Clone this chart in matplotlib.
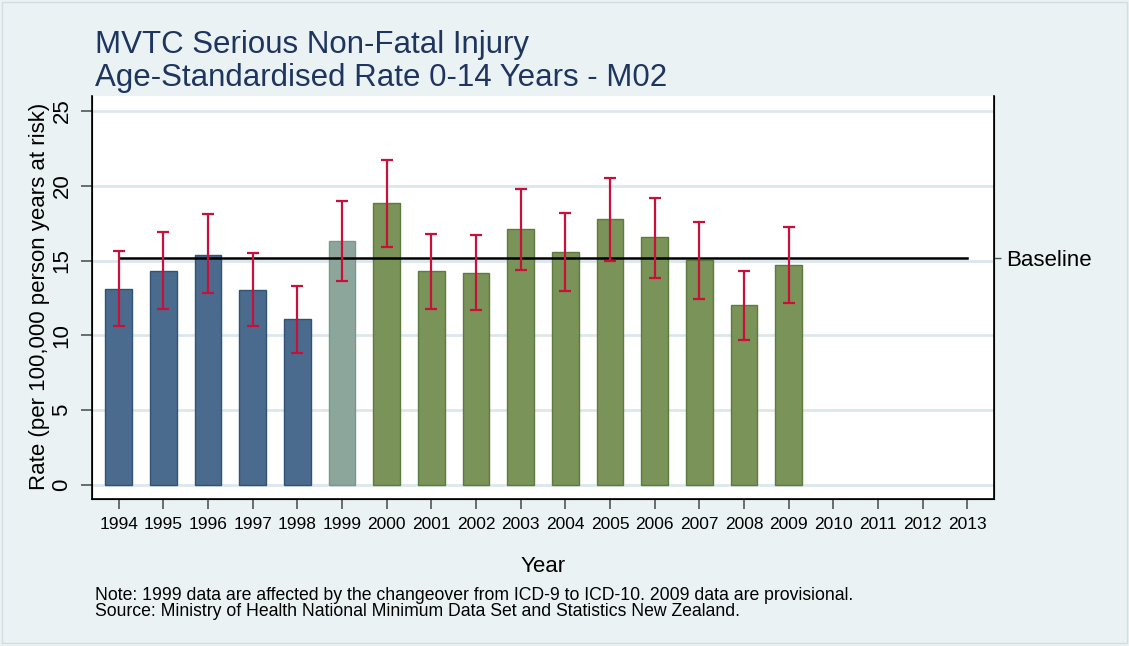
import matplotlib.pyplot as plt
import matplotlib.patches as mpatches

plt.rcParams['font.family'] = ['Liberation Sans', 'DejaVu Sans']

# data
years = list(range(1994, 2014))
bar_years = list(range(1994, 2010))
rate = [13.1, 14.3, 15.4, 13.05, 11.1, 16.3, 18.85, 14.3, 14.2, 17.1,
        15.55, 17.75, 16.55, 15.05, 12.0, 14.7]
upper = [15.65, 16.9, 18.1, 15.5, 13.3, 19.0, 21.7, 16.75, 16.7, 19.8,
         18.15, 20.5, 19.2, 17.6, 14.3, 17.25]
lower = [10.6, 11.75, 12.8, 10.6, 8.85, 13.6, 15.9, 11.75, 11.7, 14.35,
         12.95, 15.0, 13.85, 12.45, 9.7, 12.15]
baseline = 15.2

bg = '#EAF2F3'
blue, blue_edge = '#4A6B8D', '#2F5275'
grey, grey_edge = '#8CA69B', '#7A978B'
green, green_edge = '#7A9358', '#5E7B3E'
red = '#C8103A'

fig = plt.figure(figsize=(11.29, 6.46), dpi=100, facecolor=bg)
ax = fig.add_axes([92 / 1129, 147 / 646, 902 / 1129, 403 / 646])
ax.set_facecolor('white')

colors, edges = [], []
for y in bar_years:
    if y < 1999:
        colors.append(blue); edges.append(blue_edge)
    elif y == 1999:
        colors.append(grey); edges.append(grey_edge)
    else:
        colors.append(green); edges.append(green_edge)

ax.bar(bar_years, rate, width=0.6, color=colors, edgecolor=edges, linewidth=1.0, zorder=2)
err_lo = [r - l for r, l in zip(rate, lower)]
err_hi = [u - r for r, u in zip(rate, upper)]
ax.errorbar(bar_years, rate, yerr=[err_lo, err_hi], fmt='none', ecolor=red,
            elinewidth=1.6, capsize=4, capthick=1.6, zorder=4)
ax.plot([years[0], years[-1]], [baseline, baseline], color='black', lw=1.8, zorder=3)

ax.set_xlim(1993.4, 2013.6)
ax.set_ylim(-0.94, 26.0)
ax.set_yticks([0, 5, 10, 15, 20, 25])
ax.set_xticks(years)
ax.set_xticklabels([str(y) for y in years], fontsize=12.5)
ax.grid(axis='y', color='#DCE7EC', lw=2, zorder=0)
ax.set_axisbelow(True)

ax.tick_params(axis='x', length=7, width=1.2, color='#555555', pad=6)
ax.tick_params(axis='y', length=8, width=1.2, color='#555555', pad=6, labelsize=16)
for lbl in ax.get_yticklabels():
    lbl.set_rotation(90)
    lbl.set_va('center')

ax.spines['top'].set_visible(False)
for s in ['left', 'bottom', 'right']:
    ax.spines[s].set_color('black')
    ax.spines[s].set_linewidth(1.2)

# right-hand axis only carries the baseline label
ax2 = ax.twinx()
ax2.set_ylim(ax.get_ylim())
ax2.set_yticks([baseline])
ax2.set_yticklabels(['Baseline'], fontsize=16)
ax2.tick_params(axis='y', length=5, width=1, color='#555555', pad=4)
ax2.spines['top'].set_visible(False)

title_color = '#1E3560'
fig.text(95 / 1129, 1 - 45 / 646, 'MVTC Serious Non-Fatal Injury', fontsize=22.5,
         color=title_color, va='center', ha='left')
fig.text(95 / 1129, 1 - 78 / 646, 'Age-Standardised Rate 0-14 Years - M02', fontsize=22.5,
         color=title_color, va='center', ha='left')

fig.text(40 / 1129, 1 - 296 / 646, 'Rate (per 100,000 person years at risk)', fontsize=16,
         rotation=90, va='center', ha='center')
fig.text(543 / 1129, 1 - 566 / 646, 'Year', fontsize=16, va='center', ha='center')

fig.text(95 / 1129, 1 - 595 / 646,
         'Note: 1999 data are affected by the changeover from ICD-9 to ICD-10. 2009 data are provisional.',
         fontsize=12.7, va='center', ha='left')
fig.text(95 / 1129, 1 - 611 / 646,
         'Source: Ministry of Health National Minimum Data Set and Statistics New Zealand.',
         fontsize=12.7, va='center', ha='left')

fig.patches.append(mpatches.Rectangle((0.002, 0.004), 0.996, 0.993, transform=fig.transFigure,
                                      fill=False, edgecolor='#D3DEE2', lw=1))

fig.savefig('out.png', dpi=100, facecolor=bg)
